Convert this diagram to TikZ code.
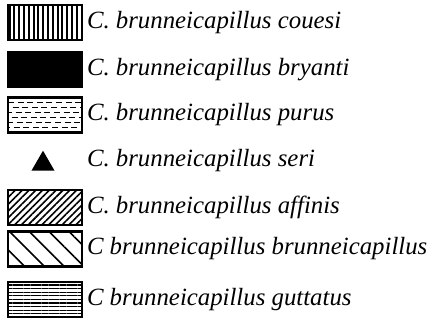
\documentclass[tikz,border=0pt]{standalone}
\usepackage{fontspec}
\setmainfont{Liberation Serif}
\usetikzlibrary{shapes.geometric,patterns.meta,positioning}

\begin{document}
\begin{tikzpicture}[
    x=0.5pt, y=-0.5pt,
    every node/.style={inner sep=0pt, outer sep=0pt},
    swatch/.style={rectangle, draw=black, line width=1.1pt, minimum width=37pt, minimum height=17.5pt},
    taxon/.style={anchor=west, font=\itshape\fontsize{12.4}{14}\selectfont},
    dashfill/.style={path picture={
        \foreach \k/\ph in {1/0pt,2/2.5pt,3/1pt,4/3pt,5/0.5pt,6/2pt}
            \draw[line width=0.6pt, dash pattern=on 3pt off 1.8pt, dash phase=\ph]
                ([yshift=-\k*2.5pt]path picture bounding box.north west) --
                ([yshift=-\k*2.5pt]path picture bounding box.north east);
    }}
]
\useasboundingbox (0,0) rectangle (437,321);

% Swatches
\node[swatch, pattern={Lines[angle=90, distance=2.4pt, line width=1pt]}] (couesi) at (45,22.5) {};
\node[swatch, fill=black] (bryanti) at (45,69.5) {};
\node[swatch, dashfill] (purus) at (45,115) {};
\node[regular polygon, regular polygon sides=3, minimum size=13.3pt, fill=black] (seri) at (43,164) {};
\node[swatch, pattern={Lines[angle=45, distance=2.4pt, line width=0.8pt]}] (affinis) at (45,207.5) {};
\node[swatch, pattern={Lines[angle=-45, distance=7pt, line width=0.8pt]}] (brunnei) at (45,249) {};
\node[swatch, pattern={Lines[angle=0, distance=1.8pt, line width=0.6pt]}] (guttatus) at (45,299.5) {};

% Names
\node[taxon, right=2.5pt of couesi] (couesitext) {C. brunneicapillus couesi};
\node[taxon, right=2.5pt of bryanti] (bryantitext) {C. brunneicapillus bryanti};
\node[taxon, right=2.5pt of purus] (purustext) {C. brunneicapillus purus};
\node[taxon] (seritext) at (87,161) {C. brunneicapillus seri};
\node[taxon, right=2.5pt of affinis] (affinistext) {C. brunneicapillus affinis};
\node[taxon, right=2.5pt of brunnei] (brunneitext) {C brunneicapillus brunneicapillus};
\node[taxon, right=2.5pt of guttatus] (guttatustext) {C brunneicapillus guttatus};

\end{tikzpicture}
\end{document}
